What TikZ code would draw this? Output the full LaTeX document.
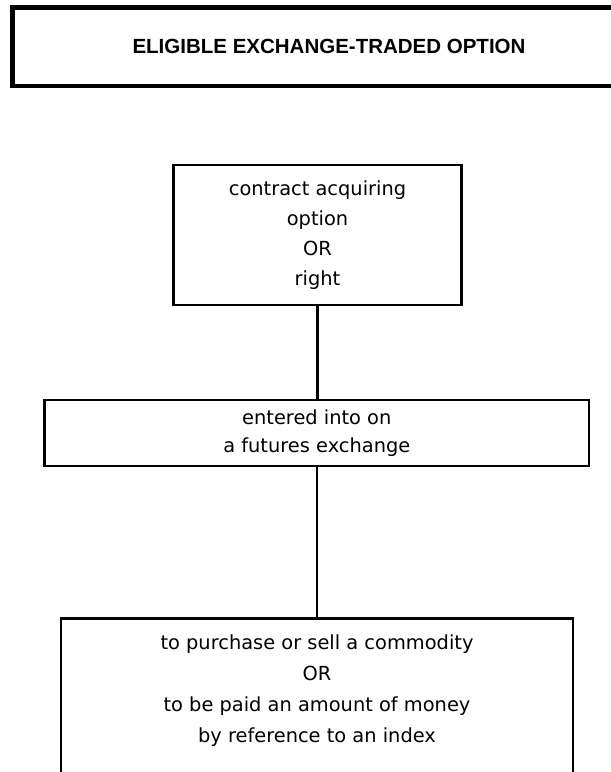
\documentclass[tikz,border=0pt]{standalone}
\usepackage{fontspec}
\setmainfont{DejaVu Sans}
\newfontfamily\titlefont{Liberation Sans}
\begin{document}
\begin{tikzpicture}[x=1pt,y=-1pt,
  titlebox/.style={draw, line width=4.5pt, minimum width=633pt, minimum height=78.5pt, inner sep=0pt,
    font=\titlefont\bfseries\fontsize{20.5}{24}\selectfont},
  stepbox/.style={draw, line width=2.6pt, inner sep=0pt, align=center},
  bodytext/.style={align=center, inner sep=0pt, font=\fontsize{19.4}{30}\selectfont},
  link/.style={line width=2.6pt}]
\useasboundingbox (0,0) rectangle (611,772);
\node[titlebox] (title) at (329,46.75) {ELIGIBLE EXCHANGE-TRADED OPTION};
\node[stepbox, bodytext, minimum width=288pt, minimum height=140pt] (b1) at (317.5,235)
  {contract acquiring\\option\\OR\\right};
\node[stepbox, bodytext, minimum width=544.5pt, minimum height=66pt,
  font=\fontsize{19.4}{28}\selectfont] (b2) at (316.8,433)
  {entered into on\\a futures exchange};
\node[stepbox, minimum width=512pt, minimum height=175pt, anchor=north] (b3) at (317,617) {};
\node[bodytext, font=\fontsize{19.4}{31}\selectfont] (t3) at (317,690.5)
  {to purchase or sell a commodity\\OR\\to be paid an amount of money\\by reference to an index};
\draw[link] (b1.south) -- (b1.south |- b2.north);
\draw[link] (b2.south) -- (b2.south |- b3.north);
\end{tikzpicture}
\end{document}
